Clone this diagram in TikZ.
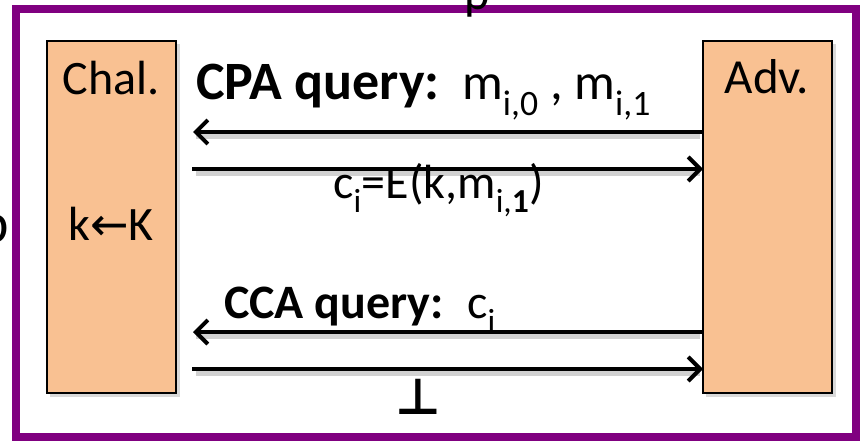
\documentclass[tikz,border=0pt]{standalone}
\usepackage{fontspec}
\setmainfont{Carlito}
\newfontfamily\symbolfont{DejaVu Sans}
\usetikzlibrary{arrows.meta}
\definecolor{peach}{HTML}{F9C192}
\definecolor{framepurple}{HTML}{800080}
\begin{document}
\begin{tikzpicture}[x=1pt,y=-1pt,
  party/.style={draw=black, line width=1.6pt, fill=peach, minimum width=129pt, minimum height=352pt, inner sep=0pt},
  msg/.style={line width=4pt, -{Straight Barb[length=12pt,width=24pt,line width=4pt]}},
  msgshadow/.style={line width=5pt, draw=black, opacity=0.18},
  lbl/.style={inner sep=0pt, font=\fontsize{48}{52}\selectfont},
  blbl/.style={inner sep=0pt, font=\fontsize{54}{58}\selectfont\bfseries}]
\useasboundingbox (0,0) rectangle (864,441);
\clip (0,0) rectangle (864,441);
\fill[white] (0,0) rectangle (864,441);

% outer frame and the cut-off letters of the surrounding slide
\draw[framepurple, line width=8pt] (16,9) rectangle (856,437);
\node[lbl, anchor=base] (ptext) at (477,10) {p};
\node[lbl, anchor=base east, font=\fontsize{56}{60}\selectfont] (btext) at (9,242) {b};

% box shadows
\fill[black, opacity=0.15] (50,44) rectangle (180,397);
\fill[black, opacity=0.15] (706,44) rectangle (836,397);

% the two parties
\node[party] (chal) at (111.5,217) {};
\node[party] (adv) at (767.5,217) {};
\node[lbl, anchor=base] (chalname) at (111,95) {Chal.};
\node[lbl, anchor=base] (keygen) at (111,240) {k{\symbolfont\fontsize{46}{50}\selectfont ←}K};
\node[lbl, anchor=base, font=\fontsize{49}{53}\selectfont] (advname) at (767,94) {Adv.};

% arrow end points
\coordinate (q1a) at (703,132);
\coordinate (q1c) at (193,132);
\coordinate (r1c) at (192,169);
\coordinate (r1a) at (703,169);
\coordinate (q2a) at (703,332);
\coordinate (q2c) at (193,332);
\coordinate (r2c) at (192,369);
\coordinate (r2a) at (703,369);

% arrow shadows
\foreach \ya in {132,169,332,369}{
  \draw[msgshadow] (196,\ya+4) -- (700,\ya+4);
}

% messages
\draw[msg] (q1a) -- (q1c);
\draw[msg] (r1c) -- (r1a);
\draw[msg] (q2a) -- (q2c);
\draw[msg] (r2c) -- (r2a);

% labels
\node[blbl, anchor=base west] (cpa) at (196,100) {CPA query:};
\node[lbl, anchor=base west, font=\fontsize{51}{55}\selectfont] (cpamsg) at (462,100) {m\textsubscript{i,0} , m\textsubscript{i,1}};
\node[lbl, anchor=base west, font=\fontsize{48}{52}\selectfont] (cpaans) at (333,198) {c\textsubscript{i}=E(k,m\textsubscript{i,\textbf{1}})};
\node[blbl, anchor=base west, font=\fontsize{48}{52}\selectfont\bfseries] (cca) at (224,318) {CCA query:};
\node[lbl, anchor=base west, font=\fontsize{48}{52}\selectfont] (ccamsg) at (467,318) {c\textsubscript{i}};
\node[inner sep=0pt, anchor=base, font=\fontsize{50}{54}\selectfont\symbolfont\bfseries] (bot) at (418,414) {⊥};
\end{tikzpicture}
\end{document}
